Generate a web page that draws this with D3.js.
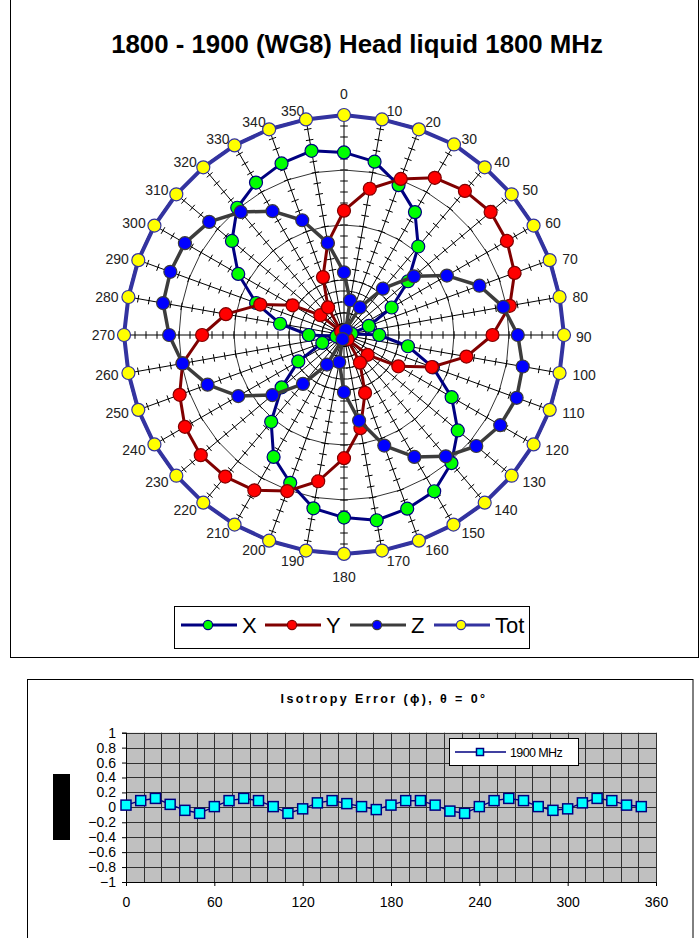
<!DOCTYPE html>
<html><head><meta charset="utf-8">
<script src="https://cdn.jsdelivr.net/npm/d3@7"></script>
<style>
body{margin:0;background:#fff}
svg{display:block}
text{font-family:"Liberation Sans",Arial,sans-serif}
</style>
</head><body>
<svg id="c" width="700" height="938"></svg>
<script>
// ---- polar chart data (angle in degrees, field values per probe axis) ----
const angles = d3.range(0, 360, 10);
const xAxisVals = [16.6,16.0,14.5,12.9,10.5,7.6,5.0,2.4,0.7,3.2,5.9,8.6,11.3,13.5,15.2,16.4,16.8,17.1,16.6,16.0,14.3,12.8,10.3,7.4,4.8,2.1,0.7,3.2,5.9,8.5,11.1,13.3,15.1,16.0,16.6,17.0];
const yAxisVals = [11.3,13.5,15.1,16.5,17.1,17.4,17.1,16.5,15.3,13.5,11.3,8.5,5.7,2.8,0.5,2.9,5.6,8.6,11.2,13.5,15.1,16.3,16.8,17.0,16.7,15.9,14.9,12.9,10.9,8.1,5.4,2.8,0.4,2.9,5.6,8.5];
const zAxisVals = [5.7,3.2,0.5,2.9,5.5,8.3,10.8,13.1,14.7,15.8,16.5,16.7,16.4,15.7,14.4,12.8,10.7,7.9,5.2,2.5,0.4,3.1,5.8,8.5,11.1,13.2,14.9,15.9,16.7,16.8,16.7,16.0,14.6,13.0,11.1,8.5];
const totVals   = [20.0,19.9,19.9,20.0,19.9,19.9,19.9,19.9,19.9,20.0,19.9,19.9,19.9,19.9,19.9,19.9,19.9,19.9,19.9,19.9,19.9,19.9,19.9,19.9,19.9,19.9,19.9,20.0,19.9,19.9,19.9,19.9,19.9,19.9,19.9,19.9];
const seriesNames = ["X","Y","Z","Tot"];
const radialMax = 20, radialMajor = 5, radialMinor = 1;

// ---- isotropy error data ----
const phiVals = d3.range(0, 360, 10);
const isoErr = [0.03,0.09,0.12,0.04,-0.04,-0.08,0.01,0.09,0.12,0.09,0.01,-0.08,-0.02,0.06,0.09,0.05,0.01,-0.03,0.03,0.09,0.09,0.03,-0.05,-0.08,0.01,0.09,0.12,0.09,0.01,-0.04,-0.02,0.06,0.12,0.09,0.03,0.01];
const isoXTicks = [0,60,120,180,240,300,360];
const isoYTicks = [1,0.8,0.6,0.4,0.2,0,-0.2,-0.4,-0.6,-0.8,-1];
const isoLegend = "1900 MHz";

const svg = d3.select("#c");
const FONT = '"Liberation Sans",Arial,sans-serif';

// ================= polar chart =================
svg.append("rect").attr("x",10.5).attr("y",-1).attr("width",688).attr("height",658.5)
  .attr("fill","#fff").attr("stroke","#000").attr("stroke-width",1);

svg.append("text").attr("x",357).attr("y",53).attr("text-anchor","middle")
  .attr("font-size",25.8).attr("font-weight","bold").attr("fill","#000")
  .text("1800 - 1900 (WG8) Head liquid 1800 MHz");

const cx = 344, cy = 335;
const r = d3.scaleLinear().domain([0, radialMax]).range([0, 220]);
const rad = a => a * Math.PI / 180;
const g = svg.append("g").attr("transform", `translate(${cx},${cy})`);

// gridline polygons at the major unit
const ring = d3.lineRadial().angle(d => rad(d.a)).radius(d => r(d.v)).curve(d3.curveLinearClosed);
d3.range(radialMajor, radialMax + 0.001, radialMajor).forEach(v => {
  g.append("path").attr("d", ring(angles.map(a => ({a, v}))))
    .attr("fill","none").attr("stroke","#000").attr("stroke-width",0.8);
});

// spokes with cross tick marks at the minor unit
angles.forEach(a => {
  const t = rad(a), s = Math.sin(t), c = Math.cos(t);
  g.append("line").attr("x1",0).attr("y1",0)
    .attr("x2", r(radialMax)*s).attr("y2", -r(radialMax)*c)
    .attr("stroke", a === 0 ? "#808080" : "#000").attr("stroke-width", a === 0 ? 2 : 1);
  const tk = d3.range(radialMinor, radialMax + 0.001, radialMinor);
  g.append("path").attr("fill","none").attr("stroke","#000").attr("stroke-width",1)
    .attr("d", tk.map(v => {
      const px = r(v)*s, py = -r(v)*c, h = 3.8;
      return `M${px - h*c},${py - h*s}L${px + h*c},${py + h*s}`;
    }).join(""));
});

// angle labels
angles.forEach(a => {
  const t = rad(a), s = Math.sin(t), c = Math.cos(t);
  const R = 229;
  let x = R*s, y = -R*c, anchor = "middle";
  if (a === 0) y = -R - 12;
  else if (a === 180) y = R + 13;
  else if (s > 0) { anchor = "start"; x += 3; }
  else { anchor = "end"; }
  if (a !== 0 && a !== 180 && c > 0) y += 2;
  g.append("text").attr("x",x).attr("y",y).attr("text-anchor",anchor)
    .attr("dominant-baseline","central").attr("font-size",14).attr("fill","#222")
    .text(a);
});

// series
const styles = [
  {vals:xAxisVals, line:"#000080", dot:"#00ff00", w:3},
  {vals:yAxisVals, line:"#800000", dot:"#ff0000", w:3},
  {vals:zAxisVals, line:"#3c3c3c", dot:"#0000ff", w:3.5},
  {vals:totVals,   line:"#3333a0", dot:"#ffff00", w:4}
];
const radial = d3.lineRadial().angle(d => rad(d.a)).radius(d => r(d.v)).curve(d3.curveLinearClosed);
styles.forEach(st => {
  const pts = angles.map((a,i) => ({a, v: st.vals[i]}));
  g.append("path").attr("d", radial(pts)).attr("fill","none")
    .attr("stroke", st.line).attr("stroke-width", st.w).attr("stroke-linejoin","round");
  g.selectAll(null).data(pts).enter().append("circle")
    .attr("cx", d => r(d.v)*Math.sin(rad(d.a)))
    .attr("cy", d => -r(d.v)*Math.cos(rad(d.a)))
    .attr("r", 6.5).attr("fill", st.dot).attr("stroke", st.line).attr("stroke-width", 1.2);
});

// legend
const lg = svg.append("g");
lg.append("rect").attr("x",174.5).attr("y",606.5).attr("width",355).attr("height",42)
  .attr("fill","#fff").attr("stroke","#000").attr("stroke-width",1);
const legX = [181, 265, 350, 434];
styles.forEach((st,i) => {
  const x0 = legX[i];
  lg.append("line").attr("x1",x0).attr("x2",x0+56).attr("y1",625).attr("y2",625)
    .attr("stroke",st.line).attr("stroke-width",3);
  lg.append("circle").attr("cx",x0+27).attr("cy",625).attr("r",4.6)
    .attr("fill",st.dot).attr("stroke",st.line).attr("stroke-width",1.2);
  lg.append("text").attr("x",x0+61).attr("y",633).attr("font-size",22).attr("fill","#000")
    .text(seriesNames[i]);
});

// ================= isotropy error chart =================
svg.append("rect").attr("x",27.5).attr("y",679.5).attr("width",665.5).attr("height",270)
  .attr("fill","#fff").attr("stroke","#000").attr("stroke-width",1);

svg.append("text").attr("x",384).attr("y",702.5).attr("text-anchor","middle")
  .attr("font-size",12.5).attr("font-weight","bold").attr("letter-spacing",2.4).attr("fill","#000")
  .text("Isotropy Error (\u03d5), \u03b8 = 0\u00b0");

const px = d3.scaleLinear().domain([0,360]).range([126,656]);
const py = d3.scaleLinear().domain([-1,1]).range([882,732.7]);

svg.append("rect").attr("x",px(0)).attr("y",py(1)).attr("width",px(360)-px(0))
  .attr("height",py(-1)-py(1)).attr("fill","#c0c0c0");

const grid = svg.append("g").attr("stroke","#303030").attr("stroke-width",1);
d3.range(0, 361, 12).forEach(v => grid.append("line")
  .attr("x1",Math.round(px(v))+0.5).attr("x2",Math.round(px(v))+0.5)
  .attr("y1",py(1)).attr("y2",py(-1)));
isoYTicks.forEach(v => grid.append("line")
  .attr("x1",px(0)).attr("x2",px(360))
  .attr("y1",Math.round(py(v))+0.5).attr("y2",Math.round(py(v))+0.5));

const yAx = svg.append("g").attr("transform",`translate(${px(0)},0)`)
  .call(d3.axisLeft(py).tickValues(isoYTicks).tickSize(4).tickPadding(6).tickFormat(d3.format("")));
const xAx = svg.append("g").attr("transform",`translate(0,${py(-1)})`)
  .call(d3.axisBottom(px).tickValues(isoXTicks).tickSize(4).tickPadding(11).tickFormat(d3.format("d")));
[yAx, xAx].forEach(ax => {
  ax.selectAll("text").attr("font-size",14).attr("font-family",FONT).attr("fill","#000");
  ax.selectAll("line").attr("stroke","#000");
  ax.select(".domain").attr("stroke","#000");
});

// y-axis title block
svg.append("rect").attr("x",53).attr("y",774).attr("width",17).attr("height",66).attr("fill","#000");

const isoPts = phiVals.map((p,i) => ({p, v: isoErr[i]}));
svg.append("path").attr("d", d3.line().x(d => px(d.p)).y(d => py(d.v))(isoPts))
  .attr("fill","none").attr("stroke","#000080").attr("stroke-width",1.5);
svg.selectAll(null).data(isoPts).enter().append("rect")
  .attr("x", d => px(d.p)-5).attr("y", d => py(d.v)-5).attr("width",10).attr("height",10)
  .attr("fill","#00ffff").attr("stroke","#000080").attr("stroke-width",1.5);

// legend box
svg.append("rect").attr("x",449.5).attr("y",738.5).attr("width",129).attr("height",27)
  .attr("fill","#fff").attr("stroke","#000").attr("stroke-width",1);
svg.append("line").attr("x1",455).attr("x2",506).attr("y1",752).attr("y2",752)
  .attr("stroke","#000080").attr("stroke-width",1.5);
svg.append("rect").attr("x",476.5).attr("y",748.5).attr("width",7).attr("height",7)
  .attr("fill","#00ffff").attr("stroke","#000080").attr("stroke-width",1.5);
svg.append("text").attr("x",510).attr("y",756.5).attr("font-size",12.5).attr("letter-spacing",-0.6)
  .attr("fill","#000").text(isoLegend);
</script>
</body></html>
